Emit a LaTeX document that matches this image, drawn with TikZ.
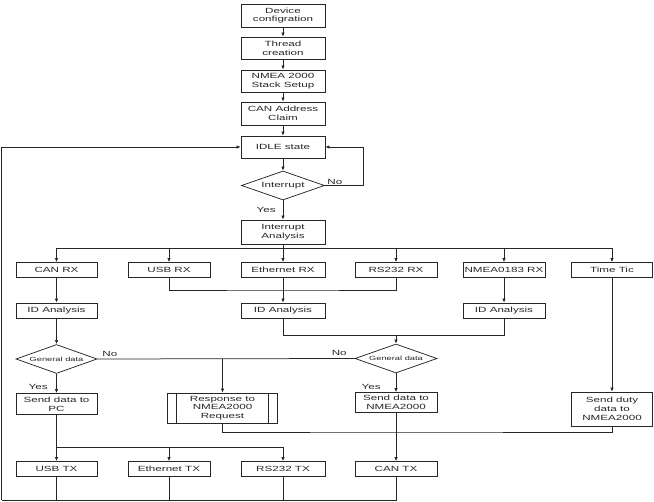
\documentclass[tikz,border=0pt]{standalone}
\usepackage{fontspec}
\newfontfamily\wf[FakeStretch=1.55]{Liberation Sans}
\usetikzlibrary{shapes.geometric,arrows.meta}
\begin{document}
\begin{tikzpicture}[x=1pt,y=-1pt,
  line width=0.75pt, color=black!85,
  box/.style={draw, rectangle, inner sep=0pt, align=center,
    font=\wf\fontsize{7.5}{8.7}\selectfont, minimum width=#1},
  box/.default=82pt,
  dia/.style={draw, diamond, aspect=2.9, inner sep=0pt, align=center},
  lab/.style={font=\wf\fontsize{7.5}{8.5}\selectfont, inner sep=0pt},
  arr/.style={-{Latex[length=4pt,width=3.5pt]}}
]
\useasboundingbox (0,0) rectangle (654,502);
% main column
\node[box=84pt, minimum height=23pt] (dev) at (283,15.5) {Device\\configration};
\node[box=84pt, minimum height=22pt] (thr) at (283,48) {Thread\\creation};
\node[box=84pt, minimum height=22pt] (nmea) at (283,81) {NMEA 2000\\Stack Setup};
\node[box=84pt, minimum height=23pt] (can) at (283,113.5) {CAN Address\\Claim};
\node[box=84pt, minimum height=22pt] (idle) at (283,147) {IDLE state};
\node[dia, minimum width=83pt, minimum height=29pt, font=\wf\fontsize{7.5}{8.5}\selectfont] (intr) at (283,185.5) {Interrupt};
\node[box=84pt, minimum height=24pt] (ana) at (283,232) {Interrupt\\Analysis};
% RX row
\node[box=81pt, minimum height=15pt] (canrx) at (56.5,270) {CAN RX};
\node[box=82pt, minimum height=15pt] (usbrx) at (169,270) {USB RX};
\node[box=84pt, minimum height=15pt] (ethrx) at (283,270) {Ethernet RX};
\node[box=82pt, minimum height=15pt] (rsrx) at (396,270) {RS232 RX};
\node[box=82pt, minimum height=15pt] (nmrx) at (504,270) {NMEA0183 RX};
\node[box=81pt, minimum height=15pt] (tic) at (612,270) {Time Tic};
% ID row
\node[box=81pt, minimum height=15pt] (id1) at (56.5,310.5) {ID Analysis};
\node[box=84pt, minimum height=15pt] (id2) at (283,310.5) {ID Analysis};
\node[box=82pt, minimum height=15pt] (id3) at (504,310.5) {ID Analysis};
% decisions
\node[dia, minimum width=81pt, minimum height=29pt, font=\wf\fontsize{6}{7}\selectfont] (gd1) at (56.5,359) {General data};
\node[dia, minimum width=82pt, minimum height=29pt, font=\wf\fontsize{6}{7}\selectfont] (gd2) at (396,358.5) {General data};
% send row
\node[box=81pt, minimum height=21pt] (pc) at (56.5,404) {Send data to\\PC};
\node[box=110pt, minimum height=30pt] (resp) at (222.5,408) {Response to\\NMEA2000\\Request};
\draw ([xshift=9.5pt]resp.north west) -- ([xshift=9.5pt]resp.south west);
\draw ([xshift=-9.5pt]resp.north east) -- ([xshift=-9.5pt]resp.south east);
\node[box=82pt, minimum height=20pt] (sn) at (396,402.5) {Send data to\\NMEA2000};
\node[box=81pt, minimum height=34pt] (duty) at (612,409) {Send duty\\data to\\NMEA2000};
% TX row
\node[box=81pt, minimum height=15pt] (usbtx) at (56.5,469) {USB TX};
\node[box=82pt, minimum height=15pt] (ethtx) at (169,469) {Ethernet TX};
\node[box=84pt, minimum height=15pt] (rstx) at (283,469) {RS232 TX};
\node[box=82pt, minimum height=15pt] (cantx) at (396,469) {CAN TX};
% coordinates
\coordinate (loopR) at (363,185.5);
\coordinate (loopL) at (1.5,500);
\coordinate (br) at (283,248);
\coordinate (m1) at (283,335);
\coordinate (m2) at (396,335);
\coordinate (nob) at (222.5,358.7);
\coordinate (tm) at (283,447);
% top chain
\draw[arr] (dev) -- (thr);
\draw[arr] (thr) -- (nmea);
\draw[arr] (nmea) -- (can);
\draw[arr] (can) -- (idle);
\draw[arr] (idle) -- (intr);
\draw[arr] (intr.east) -- (loopR) |- (idle.east);
\node[lab, anchor=south west] at (327,185) {No};
\draw[arr] (intr) -- (ana);
\node[lab, anchor=east] at (276,210) {Yes};
% branching to RX
\draw (ana) -- (br);
\draw (canrx.north |- br) -- (tic.north |- br);
\draw[arr] (br -| canrx) -- (canrx);
\draw[arr] (br -| usbrx) -- (usbrx);
\draw[arr] (br) -- (ethrx);
\draw[arr] (br -| rsrx) -- (rsrx);
\draw[arr] (br -| nmrx) -- (nmrx);
\draw[arr] (br -| tic) -- (tic);
% RX to ID
\draw[arr] (canrx) -- (id1);
\draw (usbrx.south) |- (283,290) -| (rsrx.south);
\draw[arr] (ethrx) -- (id2);
\draw[arr] (nmrx) -- (id3);
% ID to decisions
\draw[arr] (id1) -- (gd1);
\draw (id2.south) |- (m1) -| (id3.south);
\draw[arr] (m2) -- (gd2);
\draw (gd1.east) -- (gd2.west);
\draw[arr] (nob) -- (resp);
\node[lab, anchor=south west] at (102,357) {No};
\node[lab, anchor=south east] at (347,356) {No};
\draw[arr] (gd1) -- (pc);
\node[lab, anchor=east] at (48,387) {Yes};
\draw[arr] (gd2) -- (sn);
\node[lab, anchor=east] at (381,387) {Yes};
\draw[arr] (tic) -- (duty);
% to TX
\draw (resp.south) |- (396,432) -| (duty.south);
\draw[arr] (sn) -- (cantx);
\draw (pc.south) |- (tm);
\draw[arr] (tm -| usbtx) -- (usbtx);
\draw[arr] (tm -| ethtx) -- (ethtx);
\draw[arr] (tm) -- (rstx);
% return loop
\draw (usbtx.south) -- (usbtx.south |- loopL);
\draw (ethtx.south) -- (ethtx.south |- loopL);
\draw (rstx.south) -- (rstx.south |- loopL);
\draw (cantx.south) |- (loopL);
\draw[arr] (loopL) |- (idle.west);
\end{tikzpicture}
\end{document}
